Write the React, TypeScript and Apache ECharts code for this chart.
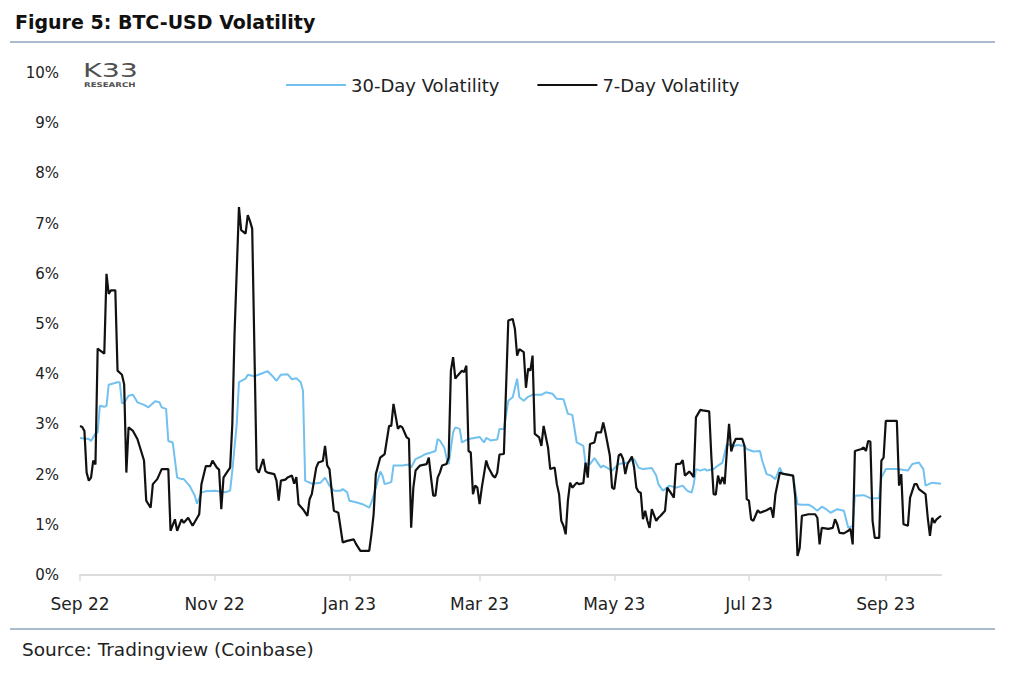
import React, { useEffect, useRef } from "react";
import * as echarts from "echarts";

// Days counted from 2022-09-01 (day 0) to 2023-09-26 (day 390)
const START_UTC = Date.UTC(2022, 8, 1);
const LAST_DAY = 390;

const TICK_DATES = ["2022-09-01", "2022-11-01", "2023-01-01", "2023-03-01", "2023-05-01", "2023-07-01", "2023-09-01"];
const TICK_LABELS = ["Sep 22", "Nov 22", "Jan 23", "Mar 23", "May 23", "Jul 23", "Sep 23"];

const SERIES_NAMES = ["30-Day Volatility", "7-Day Volatility"];

// [day, % volatility]
const vol30: [number, number][] = [
  [0, 2.73], [4, 2.71], [5, 2.67], [7, 2.82], [8, 2.84], [9, 3.37], [11, 3.35], [12, 3.37], [13, 3.79],
  [17, 3.84], [18, 3.84], [19, 3.42], [20, 3.43], [22, 3.57], [24, 3.59], [26, 3.44], [29, 3.39], [31, 3.34],
  [34, 3.46], [36, 3.44], [37, 3.34], [39, 3.31], [40, 2.67], [42, 2.64], [44, 1.94], [46, 1.91], [47, 1.91],
  [49, 1.81], [50, 1.75], [52, 1.58], [53, 1.42], [55, 1.64], [57, 1.67], [61, 1.68], [66, 1.65], [68, 1.68],
  [69, 2.08], [71, 3.01], [72, 3.84], [75, 3.91], [76, 3.99], [79, 3.96], [82, 4.01], [85, 4.06], [87, 3.97],
  [89, 3.87], [91, 3.99], [94, 4.0], [96, 3.9], [98, 3.92], [100, 3.84], [101, 3.67], [102, 1.88], [105, 1.82],
  [109, 1.84], [111, 1.94], [113, 1.78], [115, 1.68], [118, 1.68], [119, 1.71], [121, 1.65], [122, 1.48],
  [125, 1.45], [128, 1.41], [131, 1.34], [132, 1.44], [134, 1.74], [136, 2.06], [137, 1.98], [138, 1.81],
  [141, 1.85], [142, 2.18], [146, 2.18], [149, 2.2], [150, 2.14], [152, 2.31], [154, 2.35], [156, 2.4],
  [159, 2.44], [161, 2.47], [162, 2.71], [163, 2.68], [165, 2.54], [166, 2.34], [167, 2.21], [169, 2.84],
  [170, 2.94], [172, 2.91], [173, 2.64], [176, 2.71], [181, 2.75], [183, 2.64], [184, 2.73], [186, 2.68],
  [189, 2.7], [190, 2.91], [192, 2.91], [194, 3.47], [196, 3.54], [198, 3.91], [199, 3.54], [201, 3.47],
  [203, 3.55], [205, 3.59], [209, 3.59], [211, 3.64], [214, 3.61], [216, 3.51], [219, 3.5], [221, 3.21],
  [223, 3.19], [225, 2.64], [228, 2.57], [229, 2.21], [231, 2.21], [233, 2.33], [236, 2.14], [237, 2.18],
  [241, 2.08], [244, 2.21], [248, 2.24], [251, 2.31], [253, 2.14], [255, 2.11], [259, 2.13], [261, 1.98],
  [262, 1.81], [264, 1.68], [265, 1.71], [267, 1.78], [270, 1.74], [273, 1.78], [275, 1.68], [277, 1.64],
  [278, 1.81], [279, 2.11], [281, 2.08], [283, 2.11], [284, 2.08], [287, 2.11], [289, 2.18], [291, 2.24],
  [293, 2.61], [296, 2.57], [298, 2.59], [301, 2.57], [302, 2.51], [305, 2.46], [308, 2.47], [309, 2.28],
  [311, 2.01], [313, 1.98], [315, 1.91], [317, 2.14], [318, 2.04], [319, 2.01], [323, 1.98], [325, 1.41],
  [327, 1.4], [330, 1.4], [332, 1.35], [334, 1.28], [336, 1.36], [338, 1.31], [340, 1.24], [343, 1.31],
  [346, 1.28], [348, 0.94], [350, 0.98], [351, 1.58], [355, 1.59], [358, 1.53], [362, 1.53], [363, 1.94],
  [365, 2.11], [370, 2.11], [375, 2.08], [377, 2.21], [380, 2.24], [382, 2.11], [383, 1.78], [386, 1.84],
  [390, 1.82],
];

const vol7: [number, number][] = [
  [0, 2.97], [1, 2.95], [2, 2.87], [3, 2.04], [4, 1.88], [5, 1.94], [6, 2.28], [7, 2.2], [8, 4.51], [11, 4.41],
  [12, 6.0], [13, 5.6], [14, 5.67], [16, 5.67], [17, 4.07], [19, 3.99], [20, 3.8], [21, 2.04], [22, 2.94],
  [24, 2.87], [26, 2.71], [29, 2.28], [30, 1.48], [32, 1.34], [33, 1.81], [35, 1.91], [37, 2.11], [40, 2.11],
  [41, 0.88], [43, 1.11], [44, 0.88], [46, 1.11], [47, 1.04], [49, 1.14], [51, 0.98], [54, 1.21], [55, 1.81],
  [57, 2.17], [59, 2.17], [60, 2.28], [62, 2.14], [63, 2.1], [64, 1.31], [65, 1.94], [66, 2.01], [68, 2.14],
  [69, 3.01], [70, 4.8], [72, 7.33], [73, 6.87], [75, 6.8], [76, 7.17], [77, 7.05], [78, 6.9], [80, 2.11],
  [81, 2.04], [83, 2.31], [84, 2.07], [85, 2.04], [88, 2.01], [89, 1.88], [90, 1.48], [91, 1.88], [93, 1.9],
  [94, 1.94], [96, 1.98], [97, 1.82], [98, 1.95], [99, 1.41], [101, 1.31], [103, 1.18], [104, 1.51],
  [105, 1.61], [107, 2.14], [108, 2.24], [110, 2.27], [111, 2.57], [112, 2.18], [113, 2.11], [114, 1.68],
  [115, 1.28], [117, 1.24], [119, 0.65], [121, 0.68], [124, 0.71], [125, 0.62], [127, 0.48], [131, 0.48],
  [132, 0.81], [133, 1.21], [134, 2.01], [136, 2.34], [138, 2.41], [140, 2.97], [141, 2.97], [142, 3.41],
  [144, 2.91], [145, 2.97], [146, 2.94], [148, 2.74], [149, 2.71], [150, 0.94], [151, 1.74], [152, 2.08],
  [154, 2.18], [157, 2.21], [158, 2.34], [159, 1.94], [160, 1.58], [161, 1.58], [162, 1.94], [163, 2.04],
  [164, 2.18], [166, 2.21], [167, 2.34], [168, 4.07], [169, 4.34], [170, 3.91], [171, 3.97], [173, 4.07],
  [174, 4.04], [175, 4.17], [176, 2.47], [177, 2.44], [178, 1.61], [179, 1.78], [180, 1.74], [181, 1.41],
  [182, 1.74], [184, 2.28], [185, 2.14], [187, 1.98], [188, 1.94], [189, 2.04], [190, 2.4], [192, 2.41],
  [194, 5.07], [196, 5.1], [197, 4.9], [198, 4.37], [199, 4.5], [201, 4.44], [202, 3.73], [203, 4.11],
  [204, 4.07], [205, 4.37], [206, 2.81], [208, 2.74], [209, 2.57], [210, 2.97], [212, 2.54], [213, 2.11],
  [215, 2.14], [216, 1.81], [217, 1.61], [218, 1.08], [219, 0.98], [220, 0.81], [221, 1.48], [222, 1.84],
  [223, 1.74], [225, 1.84], [226, 1.81], [228, 1.83], [229, 2.24], [230, 1.94], [231, 2.61], [233, 2.64],
  [234, 2.84], [236, 2.84], [237, 3.04], [238, 2.84], [240, 2.38], [241, 1.74], [242, 1.71], [244, 2.38],
  [245, 2.41], [246, 2.31], [247, 2.01], [248, 2.21], [250, 2.36], [251, 2.14], [252, 1.74], [253, 1.66],
  [254, 1.64], [255, 1.11], [256, 1.28], [257, 1.08], [258, 0.94], [259, 1.31], [261, 1.08], [262, 1.14],
  [263, 1.18], [265, 1.28], [266, 1.74], [268, 1.61], [269, 1.54], [270, 2.21], [272, 2.22], [273, 2.29],
  [274, 1.98], [276, 2.06], [277, 2.01], [278, 1.95], [279, 3.14], [281, 3.29], [282, 3.28], [285, 3.26],
  [286, 2.34], [287, 1.61], [288, 1.6], [289, 1.98], [290, 1.81], [291, 1.95], [292, 1.81], [293, 2.47],
  [294, 3.01], [295, 2.46], [296, 2.61], [297, 2.71], [300, 2.71], [301, 2.57], [302, 1.51], [303, 1.48],
  [304, 1.11], [305, 1.08], [307, 1.29], [308, 1.24], [311, 1.29], [313, 1.34], [314, 1.14], [315, 1.61],
  [317, 2.04], [318, 2.02], [323, 1.98], [324, 1.54], [325, 0.38], [326, 0.54], [327, 1.18], [330, 1.21],
  [333, 1.21], [334, 1.14], [335, 0.61], [336, 0.94], [339, 0.92], [341, 0.94], [342, 1.11], [343, 1.01],
  [344, 0.84], [346, 0.83], [348, 0.88], [349, 0.92], [350, 0.61], [351, 2.47], [354, 2.51], [355, 2.54],
  [356, 2.47], [357, 2.67], [358, 2.66], [359, 1.08], [360, 0.74], [362, 0.74], [363, 2.28], [364, 2.34],
  [365, 3.07], [370, 3.07], [371, 1.78], [372, 2.01], [373, 1.01], [375, 0.98], [376, 1.54], [378, 1.81],
  [379, 1.81], [380, 1.71], [383, 1.61], [384, 1.14], [385, 0.78], [386, 1.14], [387, 1.04], [388, 1.11],
  [390, 1.18],
];

const FONT = "'DejaVu Sans', Verdana, sans-serif";

function dayToDate(d: number): string {
  const t = new Date(START_UTC + d * 86400000);
  return t.toISOString().slice(0, 10);
}

function fill(pairs: [number, number][]): (number | null)[] {
  const arr: (number | null)[] = new Array(LAST_DAY + 1).fill(null);
  pairs.forEach(([d, v]) => {
    arr[d] = v;
  });
  return arr;
}

export default function App() {
  const ref = useRef<HTMLDivElement>(null);

  useEffect(() => {
    if (!ref.current) return;
    const chart = echarts.init(ref.current, undefined, { renderer: "svg" });
    const categories: string[] = [];
    for (let d = 0; d <= LAST_DAY; d++) categories.push(dayToDate(d));
    const isTick = (_i: number, v: string) => TICK_DATES.indexOf(v) >= 0;

    chart.setOption({
      animation: false,
      backgroundColor: "#ffffff",
      title: {
        text: "Figure 5: BTC-USD Volatility",
        left: 10,
        top: 7,
        textStyle: { fontFamily: FONT, fontSize: 19, fontWeight: "bold", color: "#111111" },
      },
      legend: {
        left: 281,
        top: 71,
        itemWidth: 60,
        itemHeight: 2,
        itemGap: 38,
        icon: "rect",
        textStyle: { fontFamily: FONT, fontSize: 18, color: "#222222" },
        data: SERIES_NAMES,
      },
      grid: { left: 80, right: 69, top: 73, bottom: 100 },
      xAxis: {
        type: "category",
        boundaryGap: false,
        data: categories,
        axisLine: { show: true, lineStyle: { color: "#dcdcdc", width: 2 } },
        axisTick: { show: true, interval: isTick, length: 6, lineStyle: { color: "#dcdcdc", width: 1.5 } },
        axisLabel: {
          interval: isTick,
          margin: 20,
          fontFamily: FONT,
          fontSize: 17,
          color: "#222222",
          formatter: (v: string) => TICK_LABELS[TICK_DATES.indexOf(v)],
        },
        splitLine: { show: false },
      },
      yAxis: {
        type: "value",
        min: 0,
        max: 10,
        interval: 1,
        axisLine: { show: false },
        axisTick: { show: false },
        splitLine: { show: false },
        axisLabel: { margin: 21, fontFamily: FONT, fontSize: 15, color: "#222222", formatter: "{value}%" },
      },
      series: [
        {
          name: SERIES_NAMES[0],
          type: "line",
          data: fill(vol30),
          connectNulls: true,
          showSymbol: false,
          symbol: "none",
          itemStyle: { color: "#72c1ef" },
          lineStyle: { color: "#72c1ef", width: 2 },
          z: 2,
        },
        {
          name: SERIES_NAMES[1],
          type: "line",
          data: fill(vol7),
          connectNulls: true,
          showSymbol: false,
          symbol: "none",
          itemStyle: { color: "#111111" },
          lineStyle: { color: "#111111", width: 2.2 },
          z: 3,
        },
      ],
      graphic: [
        { type: "line", shape: { x1: 10, y1: 42, x2: 995, y2: 42 }, style: { stroke: "#8ea5bd", lineWidth: 1.5 } },
        { type: "line", shape: { x1: 10, y1: 629, x2: 995, y2: 629 }, style: { stroke: "#8ea5bd", lineWidth: 1.5 } },
        {
          type: "text",
          left: 22,
          top: 640,
          style: { text: "Source: Tradingview (Coinbase)", fontFamily: FONT, fontSize: 18.5, fill: "#222222" },
        },
        {
          type: "text",
          x: 83,
          y: 61,
          scaleX: 1.5,
          style: { text: "K33", fontFamily: FONT, fontSize: 19, fill: "#505050" },
        },
        {
          type: "text",
          x: 84,
          y: 81,
          scaleX: 1.33,
          style: { text: "RESEARCH", fontFamily: FONT, fontSize: 6.5, fontWeight: "bold", fill: "#505050" },
        },
      ],
    });
    return () => chart.dispose();
  }, []);

  return (
    <div
      ref={ref}
      style={{ position: "fixed", left: 0, top: 0, width: 1010, height: 675, background: "#fff" }}
    />
  );
}
